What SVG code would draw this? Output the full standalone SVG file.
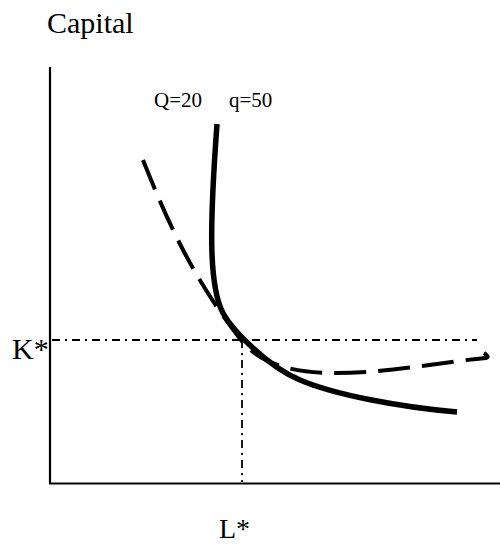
<svg xmlns="http://www.w3.org/2000/svg" width="500" height="545" viewBox="0 0 500 545">
<style>
  .lbl { font-family: "Liberation Serif", "Times New Roman", serif; fill: #000; }
  .big { font-size: 30px; }
  .bottom { font-size: 28px; }
  .small { font-size: 21px; }
  .axis { stroke: #000; stroke-width: 2.2; fill: none; }
  .guide { stroke: #000; stroke-width: 1.8; fill: none; stroke-dasharray: 8 5 2 5; }
  .solid { stroke: #000; stroke-width: 5.5; fill: none; stroke-linecap: butt; }
  .dashed { stroke: #000; stroke-width: 4; fill: none; stroke-dasharray: 32 12; }
</style>
<rect width="500" height="545" fill="#fff"/>
<g id="axes">
  <line class="axis" x1="50" y1="67" x2="50" y2="484"/>
  <line class="axis" x1="49" y1="483.5" x2="500" y2="483.5"/>
</g>
<g id="guides">
  <line class="guide" x1="52" y1="340" x2="477" y2="340"/>
  <line class="guide" x1="242" y1="340" x2="242" y2="482"/>
</g>
<g id="curves">
  <path id="q50" class="solid" d="M217,124 C210,220 208,285 223,313 C231,328 265,365 300,380 C335,395 400,407 457,412"/>
  <path id="Q20" class="dashed" d="M143,160 C165,215 190,275 241,340 C262,367 300,373 335,373 C390,373 440,362 486,358 Q490,357 484,353"/>
</g>
<g id="labels">
  <text class="lbl big" x="47" y="33">Capital</text>
  <text class="lbl small" x="154" y="107">Q=20</text>
  <text class="lbl small" x="229" y="107">q=50</text>
  <text class="lbl big" x="12" y="359">K*</text>
  <text class="lbl bottom" x="219" y="538">L*</text>
</g>
</svg>
